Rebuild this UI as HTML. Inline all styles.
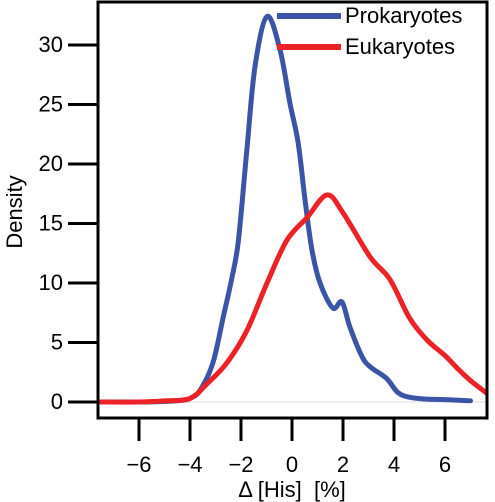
<!DOCTYPE html>
<html><head><meta charset="utf-8"><style>
html,body{margin:0;padding:0;background:#fff;}
svg{display:block;font-family:"Liberation Sans",sans-serif;}
</style></head><body>
<svg id="chart" width="495" height="502"></svg>
<script>
const xTicks=[-6,-4,-2,0,2,4,6];
const yTicks=[0,5,10,15,20,25,30];
const proX=[-7.5,-6,-5,-4.5,-4,-3.6,-3.1,-2.7,-2.35,-2.1,-1.77,-1.45,-0.98,-0.47,-0.08,0.24,0.51,0.78,1.1,1.6,1.96,2.27,2.75,3.1,3.7,4.15,4.6,5.2,6,7];
const proY=[0,0,0.05,0.1,0.3,1.0,3.3,7.1,10.5,13.6,21.2,28.2,32.4,29.6,25.1,21.8,17,12.8,10,7.9,8.4,6.3,3.8,2.9,2.0,0.8,0.4,0.25,0.2,0.1];
const eukX=[-7.5,-6,-5,-4,-3.3,-2.55,-1.77,-0.98,-0.2,0.59,1.37,2.0,3.06,3.84,4.6,5.3,6,6.5,7,7.6];
const eukY=[0,0,0.1,0.3,1.6,3.3,6,10,13.6,15.5,17.4,15.9,12.2,10.3,7.1,5.2,3.9,2.8,1.8,0.8];
const NS="http://www.w3.org/2000/svg";
const svg=document.getElementById('chart');
const L=98,R=487,T=2,B=418;
const sx=v=>292+v*25.5;
const sy=v=>402-v*11.9;
function mk(tag,attrs,parent){const e=document.createElementNS(NS,tag);for(const k in attrs)e.setAttribute(k,attrs[k]);(parent||svg).appendChild(e);return e;}
const clip=mk('clipPath',{id:'c'});mk('rect',{x:L,y:T,width:R-L,height:B-T},clip);
const zl=mk('line',{x1:L,x2:R,y1:sy(0),y2:sy(0),stroke:'#ddd','stroke-width':1});


function path(xs,ys){const p=xs.map((x,i)=>[sx(x),sy(ys[i])]);let d='M'+p[0][0]+','+p[0][1];
for(let i=0;i<p.length-1;i++){const p0=p[i-1]||p[i],p1=p[i],p2=p[i+1],p3=p[i+2]||p2;
d+=' C'+(p1[0]+(p2[0]-p0[0])/6)+','+(p1[1]+(p2[1]-p0[1])/6)+' '+(p2[0]-(p3[0]-p1[0])/6)+','+(p2[1]-(p3[1]-p1[1])/6)+' '+p2[0]+','+p2[1];}return d;}
const g=mk('g',{'clip-path':'url(#c)'});
const pb=mk('path',{d:path(proX,proY),fill:'none',stroke:'#3a55a5','stroke-width':5,'stroke-linejoin':'round','stroke-linecap':'round'},g);


const pr=mk('path',{d:path(eukX,eukY),fill:'none',stroke:'#ec2227','stroke-width':5,'stroke-linejoin':'round','stroke-linecap':'round'},g);


const box=mk('rect',{x:L,y:T,width:R-L,height:B-T,fill:'none',stroke:'#000','stroke-width':3});


xTicks.forEach(v=>{const t=mk('line',{x1:sx(v),x2:sx(v),y1:B,y2:441,stroke:'#000','stroke-width':3});


const tx=mk('text',{x:sx(v),y:472,'text-anchor':'middle','font-size':22});tx.textContent=(v<0?'\u2212'+(-v):v);

});
yTicks.forEach(v=>{const t=mk('line',{x1:68,x2:L,y1:sy(v),y2:sy(v),stroke:'#000','stroke-width':3});


const tx=mk('text',{x:63,y:sy(v)+7,'text-anchor':'end','font-size':22});tx.textContent=v;

});
const xt=mk('text',{x:292,y:497,'text-anchor':'middle','font-size':22,'xml:space':'preserve'});xt.textContent='\u0394 [His]\u00a0\u00a0[%]';


const yt=mk('text',{x:0,y:0,'text-anchor':'middle','font-size':22,transform:'translate(22,212) rotate(-90)'});yt.textContent='Density';


[['Prokaryotes','#3a55a5',16],['Eukaryotes','#ec2227',47]].forEach(([n,c,y])=>{
const l=mk('line',{x1:277,x2:341,y1:y,y2:y,stroke:c,'stroke-width':6});


const t=mk('text',{x:345,y:y+7,'font-size':22});t.textContent=n;

});
</script>
</body></html>
